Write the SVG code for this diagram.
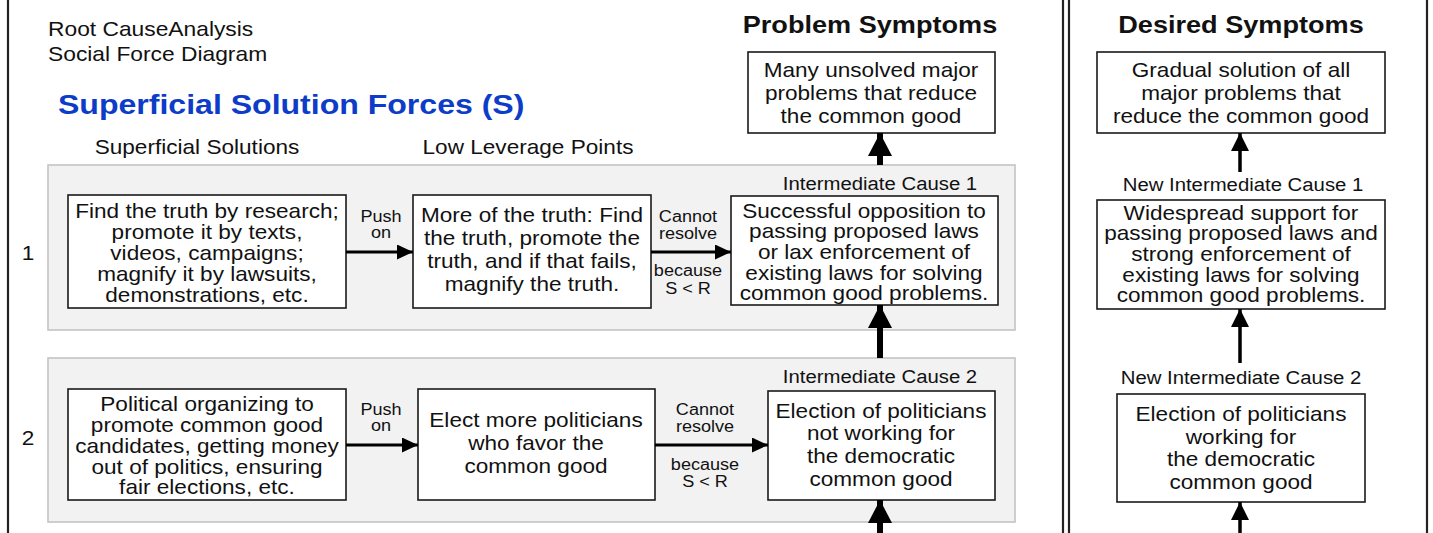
<svg xmlns="http://www.w3.org/2000/svg" width="1433" height="533" viewBox="0 0 1433 533">
  <style>
    .t { font-family: "Liberation Sans", Arial, sans-serif; font-size: 20px; fill: #111; text-anchor: middle; }
    .start { text-anchor: start; }
    .lab { font-size: 18px; }
    .sm { font-size: 16px; }
    .hd { font-weight: bold; font-size: 24px; }
    .blue { font-weight: bold; font-size: 28px; fill: #0d3cc8; }
    .box { fill: #fff; stroke: #1a1a1a; stroke-width: 1.6; }
    .panel { fill: #f2f2f2; stroke: #c4c4c4; stroke-width: 1.6; }
    .rule { stroke: #222; stroke-width: 2.2; fill: none; }
    .h { stroke: #000; stroke-width: 3; fill: none; }
    .thick { stroke: #000; stroke-width: 6; fill: none; }
    .thin { stroke: #000; stroke-width: 3.5; fill: none; }
  </style>
  <defs>
    <marker id="ah" markerUnits="userSpaceOnUse" markerWidth="16" markerHeight="15" refX="16" refY="7.5" orient="auto">
      <path d="M0,0 L16,7.5 L0,15 z" fill="#000"/>
    </marker>
    <marker id="ahBig" markerUnits="userSpaceOnUse" markerWidth="23" markerHeight="24" refX="23" refY="12" orient="auto">
      <path d="M0,0 L23,12 L0,24 z" fill="#000"/>
    </marker>
    <marker id="ahMid" markerUnits="userSpaceOnUse" markerWidth="18" markerHeight="18" refX="18" refY="9" orient="auto">
      <path d="M0,0 L18,9 L0,18 z" fill="#000"/>
    </marker>
  </defs>

  <!-- frame rules -->
  <g id="rules">
    <line class="rule" x1="8" y1="0" x2="8" y2="533"/>
    <line class="rule" x1="1063" y1="0" x2="1063" y2="533"/>
    <line class="rule" x1="1069" y1="0" x2="1069" y2="533"/>
    <line class="rule" x1="1427" y1="0" x2="1427" y2="533"/>
  </g>

  <!-- headings -->
  <g id="headings">
    <text class="t start" transform="translate(48 0) scale(1.14 1)"><tspan x="0" y="36">Root CauseAnalysis</tspan><tspan x="0" y="61">Social Force Diagram</tspan></text>
    <text class="t start blue" transform="translate(58 0) scale(1.145 1)" x="0" y="114">Superficial Solution Forces (S)</text>
    <text class="t" transform="translate(197 0) scale(1.13 1)" x="0" y="154">Superficial Solutions</text>
    <text class="t" transform="translate(528 0) scale(1.13 1)" x="0" y="154">Low Leverage Points</text>
    <text class="t hd" transform="translate(870 0) scale(1.13 1)" x="0" y="33">Problem Symptoms</text>
    <text class="t hd" transform="translate(1241 0) scale(1.13 1)" x="0" y="33">Desired Symptoms</text>
  </g>

  <!-- row panels -->
  <g id="row1">
    <rect class="panel" x="48" y="165" width="967" height="165"/>
    <text class="t" transform="translate(28 0) scale(1.13 1)" x="0" y="260">1</text>
    <text class="t lab" transform="translate(880 0) scale(1.13 1)" x="0" y="190">Intermediate Cause 1</text>
  </g>
  <g id="row2">
    <rect class="panel" x="48" y="358" width="967" height="164"/>
    <text class="t" transform="translate(28 0) scale(1.13 1)" x="0" y="445">2</text>
    <text class="t lab" transform="translate(880 0) scale(1.13 1)" x="0" y="383">Intermediate Cause 2</text>
  </g>

  <!-- problem symptom -->
  <g id="problem">
    <rect class="box" x="748" y="52" width="247" height="81"/>
    <text class="t" transform="translate(871 0) scale(1.13 1)"><tspan x="0" y="77">Many unsolved major</tspan><tspan x="0" y="100">problems that reduce</tspan><tspan x="0" y="123">the common good</tspan></text>
  </g>

  <!-- row 1 nodes -->
  <g id="s1">
    <rect class="box" x="68" y="195" width="278" height="113"/>
    <text class="t" transform="translate(207 0) scale(1.13 1)"><tspan x="0" y="218">Find the truth by research;</tspan><tspan x="0" y="239">promote it by texts,</tspan><tspan x="0" y="260">videos, campaigns;</tspan><tspan x="0" y="281">magnify it by lawsuits,</tspan><tspan x="0" y="302">demonstrations, etc.</tspan></text>
  </g>
  <g id="l1">
    <rect class="box" x="413" y="195" width="238" height="113"/>
    <text class="t" transform="translate(532 0) scale(1.13 1)"><tspan x="0" y="222">More of the truth: Find</tspan><tspan x="0" y="245">the truth, promote the</tspan><tspan x="0" y="268">truth, and if that fails,</tspan><tspan x="0" y="291">magnify the truth.</tspan></text>
  </g>
  <g id="c1">
    <rect class="box" x="731" y="196" width="267" height="109"/>
    <text class="t" transform="translate(864 0) scale(1.13 1)"><tspan x="0" y="218">Successful opposition to</tspan><tspan x="0" y="238">passing proposed laws</tspan><tspan x="0" y="259">or lax enforcement of</tspan><tspan x="0" y="280">existing laws for solving</tspan><tspan x="0" y="300">common good problems.</tspan></text>
  </g>

  <!-- row 2 nodes -->
  <g id="s2">
    <rect class="box" x="68" y="389" width="278" height="111"/>
    <text class="t" transform="translate(207 0) scale(1.13 1)"><tspan x="0" y="411">Political organizing to</tspan><tspan x="0" y="432">promote common good</tspan><tspan x="0" y="453">candidates, getting money</tspan><tspan x="0" y="474">out of politics, ensuring</tspan><tspan x="0" y="494">fair elections, etc.</tspan></text>
  </g>
  <g id="l2">
    <rect class="box" x="418" y="389" width="237" height="111"/>
    <text class="t" transform="translate(536 0) scale(1.13 1)"><tspan x="0" y="427">Elect more politicians</tspan><tspan x="0" y="450">who favor the</tspan><tspan x="0" y="473">common good</tspan></text>
  </g>
  <g id="c2">
    <rect class="box" x="768" y="391" width="227" height="109"/>
    <text class="t" transform="translate(881 0) scale(1.13 1)"><tspan x="0" y="418">Election of politicians</tspan><tspan x="0" y="440">not working for</tspan><tspan x="0" y="463">the democratic</tspan><tspan x="0" y="486">common good</tspan></text>
  </g>

  <!-- desired column -->
  <g id="desired">
    <rect class="box" x="1097" y="52" width="288" height="81"/>
    <text class="t" transform="translate(1241 0) scale(1.13 1)"><tspan x="0" y="77">Gradual solution of all</tspan><tspan x="0" y="100">major problems that</tspan><tspan x="0" y="123">reduce the common good</tspan></text>
  </g>
  <g id="n1">
    <text class="t lab" transform="translate(1243 0) scale(1.13 1)" x="0" y="191">New Intermediate Cause 1</text>
    <rect class="box" x="1097" y="200" width="288" height="109"/>
    <text class="t" transform="translate(1241 0) scale(1.13 1)"><tspan x="0" y="220">Widespread support for</tspan><tspan x="0" y="240">passing proposed laws and</tspan><tspan x="0" y="261">strong enforcement of</tspan><tspan x="0" y="282">existing laws for solving</tspan><tspan x="0" y="302">common good problems.</tspan></text>
  </g>
  <g id="n2">
    <text class="t lab" transform="translate(1241 0) scale(1.13 1)" x="0" y="384">New Intermediate Cause 2</text>
    <rect class="box" x="1117" y="394" width="248" height="108"/>
    <text class="t" transform="translate(1241 0) scale(1.13 1)"><tspan x="0" y="421">Election of politicians</tspan><tspan x="0" y="444">working for</tspan><tspan x="0" y="466">the democratic</tspan><tspan x="0" y="489">common good</tspan></text>
  </g>

  <!-- connectors -->
  <g id="connectors">
    <line class="h" x1="346" y1="252" x2="413" y2="252" marker-end="url(#ah)"/>
    <line class="h" x1="651" y1="252" x2="731" y2="252" marker-end="url(#ah)"/>
    <line class="h" x1="346" y1="445" x2="418" y2="445" marker-end="url(#ah)"/>
    <line class="h" x1="655" y1="445" x2="768" y2="445" marker-end="url(#ah)"/>
    <text class="t sm" transform="translate(381 0) scale(1.13 1)"><tspan x="0" y="222">Push</tspan><tspan x="0" y="238">on</tspan></text>
    <text class="t sm" transform="translate(688 0) scale(1.13 1)"><tspan x="0" y="222">Cannot</tspan><tspan x="0" y="239">resolve</tspan><tspan x="0" y="276">because</tspan><tspan x="0" y="294">S &lt; R</tspan></text>
    <text class="t sm" transform="translate(381 0) scale(1.13 1)"><tspan x="0" y="415">Push</tspan><tspan x="0" y="431">on</tspan></text>
    <text class="t sm" transform="translate(705 0) scale(1.13 1)"><tspan x="0" y="415">Cannot</tspan><tspan x="0" y="432">resolve</tspan><tspan x="0" y="470">because</tspan><tspan x="0" y="487">S &lt; R</tspan></text>

    <line class="thick" x1="880" y1="165" x2="880" y2="133" marker-end="url(#ahBig)"/>
    <line class="thick" x1="880" y1="358" x2="880" y2="305" marker-end="url(#ahBig)"/>
    <line class="thick" x1="880" y1="533" x2="880" y2="500" marker-end="url(#ahBig)"/>

    <line class="thin" x1="1240" y1="172" x2="1240" y2="133" marker-end="url(#ahMid)"/>
    <line class="thin" x1="1240" y1="363" x2="1240" y2="309" marker-end="url(#ahMid)"/>
    <line class="thin" x1="1240" y1="533" x2="1240" y2="502" marker-end="url(#ahMid)"/>
  </g>
</svg>
